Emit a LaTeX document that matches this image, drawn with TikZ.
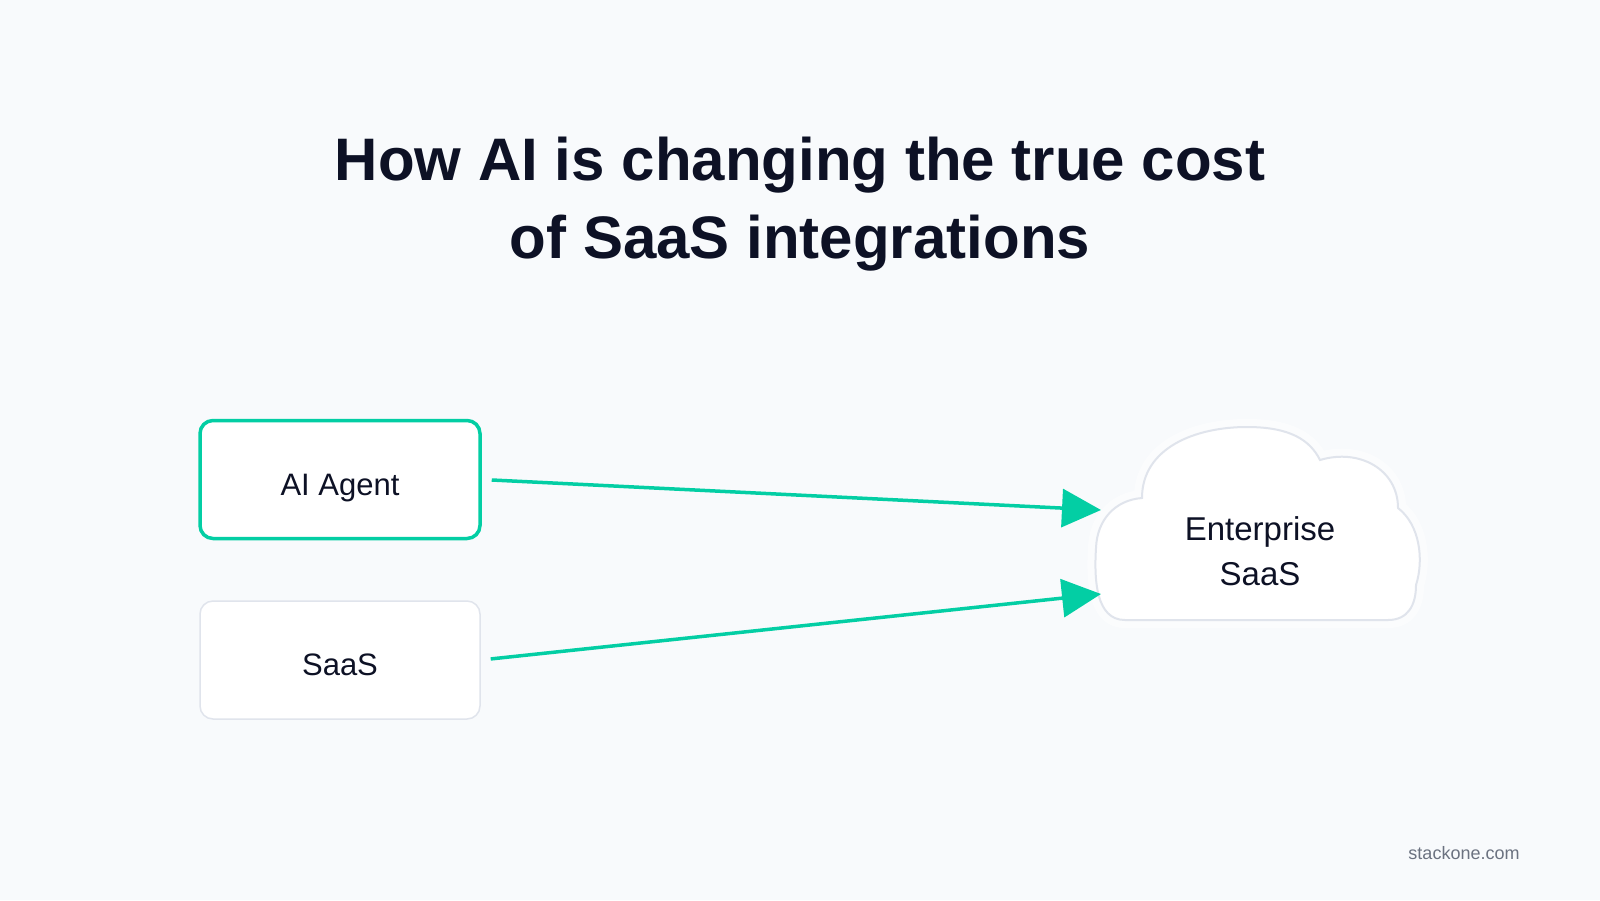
\documentclass[tikz,border=0pt]{standalone}
\usepackage{fontspec}
\setmainfont{Liberation Sans}
\usetikzlibrary{positioning,arrows.meta}

\definecolor{bgcol}{HTML}{F8FAFC}
\definecolor{ink}{HTML}{0D1125}
\definecolor{accent}{HTML}{03CEA4}
\definecolor{rim}{HTML}{E0E4EC}
\definecolor{muted}{HTML}{6B7280}

\begin{document}
\begin{tikzpicture}[
  x=1pt, y=-1pt,
  box/.style={rectangle, rounded corners=13pt, fill=white, minimum width=280pt, minimum height=118pt,
              text height=31pt, text depth=0pt, font=\fontsize{31}{36}\selectfont, text=ink},
  agentbox/.style={box, draw=accent, line width=3.5pt},
  plainbox/.style={box, draw=rim, line width=1.5pt},
  link/.style={draw=accent, line width=3.5pt, -{Triangle[length=39pt,width=38pt]}, shorten <=10pt},
  cloudrim/.style={draw=rim, line width=2pt, fill=white},
]

% background
\fill[bgcol] (0,0) rectangle (1600,900);

% Title
\node[font=\fontsize{60}{78}\bfseries, text=ink, align=center] (title) at (800,204)
  {How AI is changing the true cost\\of SaaS integrations};

% Source boxes (left column)
\node[agentbox] (agent) at (340,479.5) {AI Agent};
\node[plainbox] (saas)  at (340,660)   {SaaS};

% --- cloud outline (halo, then rim) ---
\def\cloudpath{(1125,620) -- (1388,620)
  .. controls (1408,620) and (1416,605) .. (1416,585)
  .. controls (1424,560) and (1420,525) .. (1398,508)
  .. controls (1398,470) and (1360,448) .. (1320,460)
  .. controls (1310,440) and (1290,427) .. (1247,427)
  .. controls (1195,427) and (1142,448) .. (1142,498)
  .. controls (1115,500) and (1097,520) .. (1096,548)
  .. controls (1094,580) and (1096,620) .. (1125,620) -- cycle}
\draw[white, line width=16pt, opacity=0.55, line join=round] \cloudpath;
\draw[cloudrim] \cloudpath;

\node[font=\fontsize{33}{45}\selectfont, text=ink, align=center] (cloud) at (1260,551)
  {Enterprise\\SaaS};

% arrow ends on the cloud
\coordinate (cloudin1) at (1101,510);
\coordinate (cloudin2) at (1101,594);

% --- connectors ---
\draw[link] (agent.east) -- (cloudin1);
\draw[link] (saas.east)  -- (cloudin2);

% footer
\node[font=\fontsize{18}{22}\selectfont, text=muted] (site) at (1464,853.5) {stackone.com};

\end{tikzpicture}
\end{document}
